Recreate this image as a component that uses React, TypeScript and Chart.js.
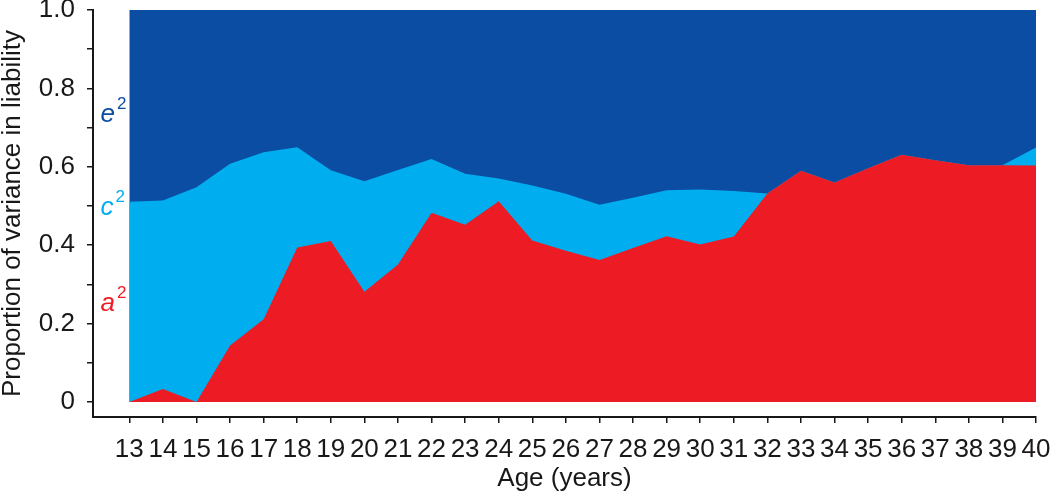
import { useEffect, useRef } from 'react';
import { Chart, registerables } from 'chart.js';

Chart.register(...registerables);

// Age in years (x categories)
const ages = [13, 14, 15, 16, 17, 18, 19, 20, 21, 22, 23, 24, 25, 26, 27, 28, 29, 30, 31, 32, 33, 34, 35, 36, 37, 38, 39, 40];

// Proportion of variance: additive genetic (a2), shared environment (c2), unique environment (e2)
const a2 = [0, 0.033, 0, 0.144, 0.211, 0.394, 0.411, 0.281, 0.351, 0.483, 0.452, 0.512, 0.412, 0.386, 0.362, 0.393, 0.423, 0.402, 0.422, 0.532, 0.59, 0.56, 0.596, 0.631, 0.617, 0.604, 0.604, 0.603];
const c2 = [0.511, 0.481, 0.548, 0.464, 0.426, 0.256, 0.18, 0.282, 0.241, 0.137, 0.13, 0.058, 0.14, 0.145, 0.141, 0.128, 0.117, 0.14, 0.116, 0, 0, 0, 0, 0, 0, 0, 0, 0.046];
const e2 = [0.489, 0.486, 0.452, 0.392, 0.363, 0.35, 0.409, 0.437, 0.408, 0.38, 0.418, 0.43, 0.448, 0.469, 0.497, 0.479, 0.46, 0.458, 0.462, 0.468, 0.41, 0.44, 0.404, 0.369, 0.383, 0.396, 0.396, 0.351];

const yTickValues = [0, 0.1, 0.2, 0.3, 0.4, 0.5, 0.6, 0.7, 0.8, 0.9, 1.0];
const yTickLabels = ['0', '', '0.2', '', '0.4', '', '0.6', '', '0.8', '', '1.0'];
const xTitle = 'Age (years)';
const yTitle = 'Proportion of variance in liability';

const componentNames = ['a', 'c', 'e'];
const componentLabelY = [0.231, 0.477, 0.714];
const componentLabelX = 12.14;

const RED = '#ED1C24';
const CYAN = '#00AEEF';
const NAVY = '#0B4DA2';
const INK = '#1A1718';
const FONT = '"Liberation Sans", Arial, Helvetica, sans-serif';
const colors = [RED, CYAN, NAVY];

const labelPlugin = {
  id: 'componentLabels',
  afterDatasetsDraw(chart: any) {
    const { ctx, scales } = chart;
    const x = scales.x;
    const y = scales.y;
    ctx.save();
    ctx.textAlign = 'left';
    ctx.textBaseline = 'alphabetic';
    componentNames.forEach((name, i) => {
      const px = x.getPixelForValue(componentLabelX);
      const py = y.getPixelForValue(componentLabelY[i]);
      ctx.fillStyle = colors[i];
      ctx.font = `italic 26px ${FONT}`;
      ctx.fillText(name, px, py);
      const w = ctx.measureText(name).width;
      ctx.font = `17px ${FONT}`;
      ctx.fillText('2', px + w + 2, py - 13);
    });
    ctx.restore();
  },
};

export default function App() {
  const canvasRef = useRef<HTMLCanvasElement | null>(null);

  useEffect(() => {
    if (!canvasRef.current) return;
    const mk = (vals: number[]) => ages.map((a, i) => ({ x: a, y: vals[i] }));
    const chart = new Chart(canvasRef.current, {
      type: 'line',
      data: {
        datasets: [
          { label: 'a2', data: mk(a2), backgroundColor: RED, borderColor: 'rgba(0,0,0,0)', borderWidth: 0, pointRadius: 0, fill: 'origin', tension: 0 },
          { label: 'c2', data: mk(c2), backgroundColor: CYAN, borderColor: 'rgba(0,0,0,0)', borderWidth: 0, pointRadius: 0, fill: 'origin', tension: 0 },
          { label: 'e2', data: mk(e2), backgroundColor: NAVY, borderColor: 'rgba(0,0,0,0)', borderWidth: 0, pointRadius: 0, fill: 'origin', tension: 0 },
        ],
      },
      options: {
        animation: false,
        responsive: false,
        maintainAspectRatio: false,
        layout: { padding: { top: 10, right: 14, left: 0, bottom: 0 } },
        plugins: {
          legend: { display: false },
          tooltip: { enabled: false },
        },
        scales: {
          x: {
            type: 'linear',
            min: 11.919,
            max: 40,
            afterBuildTicks: (scale: any) => {
              scale.ticks = ages.map((v) => ({ value: v }));
            },
            afterFit: (scale: any) => {
              scale.height = 84;
              scale.paddingLeft = 0;
              scale.paddingRight = 0;
            },
            ticks: {
              autoSkip: false,
              maxRotation: 0,
              minRotation: 0,
              padding: 11,
              color: INK,
              font: { family: FONT, size: 26 },
              callback: (v: any) => String(v),
            },
            grid: { display: true, drawOnChartArea: false, drawTicks: true, tickLength: 6, color: INK, lineWidth: 1.5 },
            border: { display: true, color: INK, width: 2 },
            title: { display: true, text: xTitle, color: INK, font: { family: FONT, size: 26 }, padding: { top: 0, bottom: 7 } },
          },
          y: {
            type: 'linear',
            stacked: true,
            min: -0.0383,
            max: 1.0,
            afterBuildTicks: (scale: any) => {
              scale.ticks = yTickValues.map((v) => ({ value: v }));
            },
            afterFit: (scale: any) => {
              scale.width = 93;
              scale.paddingTop = 0;
              scale.paddingBottom = 0;
            },
            ticks: {
              padding: 12,
              color: INK,
              font: { family: FONT, size: 26 },
              callback: (_v: any, i: number) => yTickLabels[i],
            },
            grid: { display: true, drawOnChartArea: false, drawTicks: true, tickLength: 6, color: INK, lineWidth: 1.5 },
            border: { display: true, color: INK, width: 2 },
            title: { display: true, text: yTitle, color: INK, font: { family: FONT, size: 26 }, padding: { top: -3, bottom: 0 } },
          },
        },
      },
      plugins: [labelPlugin],
    } as any);
    return () => chart.destroy();
  }, []);

  return (
    <div style={{ position: 'fixed', left: 0, top: 0, width: 1050, height: 501, background: '#fff' }}>
      <canvas ref={canvasRef} width={1050} height={501} style={{ width: 1050, height: 501, display: 'block' }} />
    </div>
  );
}
